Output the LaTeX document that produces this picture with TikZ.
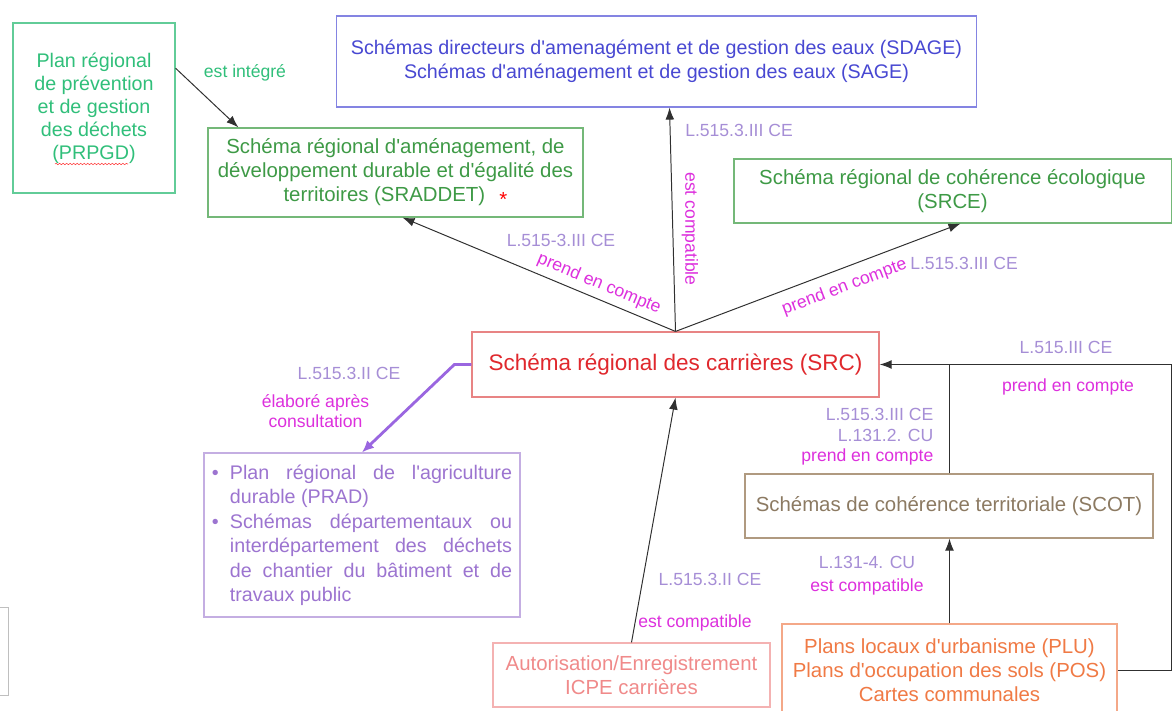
\documentclass[tikz,border=0pt]{standalone}
\usepackage{fontspec}
\setmainfont{Liberation Sans}[Ligatures=TeXOff]
\usepackage{xcolor}
\usetikzlibrary{arrows.meta,positioning,calc,decorations.pathmorphing}

\definecolor{plangreen}{HTML}{30BF7A}
\definecolor{planline}{HTML}{62CC98}
\definecolor{schgreen}{HTML}{3E9A46}
\definecolor{schline}{HTML}{74B878}
\definecolor{eaublue}{HTML}{4848D2}
\definecolor{eauline}{HTML}{8484E2}
\definecolor{srcred}{HTML}{E0282D}
\definecolor{srcline}{HTML}{E88484}
\definecolor{pradviolet}{HTML}{9C74D0}
\definecolor{pradline}{HTML}{C4AEE2}
\definecolor{consultviolet}{HTML}{9A66E0}
\definecolor{icpepink}{HTML}{F08A8A}
\definecolor{icpeline}{HTML}{F4B2B2}
\definecolor{scotbrown}{HTML}{8C7A62}
\definecolor{scotline}{HTML}{B09A80}
\definecolor{pluorange}{HTML}{F07A45}
\definecolor{pluline}{HTML}{F4A888}
\definecolor{lawlavender}{HTML}{A68ED6}
\definecolor{relmagenta}{HTML}{DD30DD}
\definecolor{linkgray}{HTML}{303030}

\newcommand{\diagfont}{\fontsize{14.5}{17}\selectfont}
\newcommand{\notefont}{\fontsize{12.5}{14.5}\selectfont}
\newcommand{\pradpoint}{\par\noindent\hspace*{-0.45cm}\makebox[0.45cm][l]{\textbullet}}

\begin{document}
\begin{tikzpicture}[
    x=0.025cm, y=-0.025cm,
    >={Latex[length=3mm,width=2.2mm]},
    box/.style={rectangle, draw, line width=0.8pt, align=center, font=\diagfont, inner sep=2pt},
    link/.style={->, draw=linkgray, line width=0.7pt},
    consult/.style={-{Latex[length=3mm,width=2.6mm]}, draw=consultviolet, line width=2pt},
    law/.style={font=\notefont, text=lawlavender, inner sep=1pt},
    rel/.style={font=\notefont, text=relmagenta, inner sep=1pt}
]
    \useasboundingbox (0,0) rectangle (1173,711);
    \clip (0,0) rectangle (1173,711);
    \fill[white] (0,0) rectangle (1173,711);

    \node[box, draw=planline, text=plangreen, minimum width=4.05cm, minimum height=4.25cm, font=\fontsize{14}{16.3}\selectfont] (prpgd) at (94,108) {Plan régional\\de prévention\\et de gestion\\des déchets\\(PRPGD)};
    \node[box, draw=eauline, text=eaublue, minimum width=15.975cm, minimum height=2.275cm, font=\fontsize{14}{17}\selectfont] (sdage) at (656.5,61.5) {Schémas directeurs d'amenagément et de gestion des eaux (SDAGE)\\Schémas d'aménagement et de gestion des eaux (SAGE)};
    \node[box, draw=schline, text=schgreen, minimum width=9.375cm, minimum height=2.225cm] (sraddet) at (395.5,172.5) {Schéma régional d'aménagement, de\\développement durable et d'égalité des\\territoires (SRADDET)\hspace{0.7em}\raisebox{-0.5ex}{\textcolor{red}{*}}};
    \node[box, draw=schline, text=schgreen, minimum width=10.925cm, minimum height=1.6cm] (srce) at (952.5,191) {Schéma régional de cohérence écologique\\(SRCE)};
    \node[box, draw=srcline, text=srcred, minimum width=10.175cm, minimum height=1.625cm, font=\fontsize{16}{19}\selectfont] (src) at (675.5,364.5) {Schéma régional des carrières (SRC)};
    \node[box, draw=pradline, text=pradviolet, inner xsep=0.2cm, minimum height=4.1cm, font=\fontsize{14}{17.4}\selectfont] (prad) at (362,535) {\parbox[c][3.5cm][t]{7.5cm}{\leftskip=0.45cm\pradpoint Plan régional de l'agriculture\linebreak durable (PRAD)\pradpoint Schémas départementaux ou\linebreak interdépartement des déchets\linebreak de chantier du bâtiment et de\linebreak travaux public}};
    \node[box, draw=icpeline, text=icpepink, minimum width=6.925cm, minimum height=1.6cm] (icpe) at (631.5,675) {Autorisation/Enregistrement\\ICPE carrières};
    \node[box, draw=scotline, text=scotbrown, minimum width=10.2cm, minimum height=1.6cm] (scot) at (949,506) {Schémas de cohérence territoriale (SCOT)};
    \node[box, draw=pluline, text=pluorange, minimum width=8.375cm, minimum height=2.3cm] (plu) at (949.5,670) {Plans locaux d'urbanisme (PLU)\\Plans d'occupation des sols (POS)\\Cartes communales};
    \coordinate (rbend) at (1171,364.5);

    \draw[link] (prpgd.26) -- ($(sraddet.north west)+(31,0)$);
    \node[rel, text=plangreen] (integre) at (245,73) {est intégré};

    \draw[link] (src.north) -- ($(sdage.south)+(13,0)$);
    \node[law] at (739,130) {L.515.3.III CE};
    \node[rel, rotate=-90] at (690,229) {est compatible};

    \draw[link, <-] ($(sraddet.south)+(7,0)$) -- (src.north) node[rel, pos=0.7, sloped, above=3pt] {prend en compte};
    \node[law] at (561,240) {L.515-3.III CE};

    \draw[link] (src.north) -- ($(srce.south)+(8,0)$) node[rel, pos=0.57, sloped, below=6pt] {prend en compte};
    \node[law] at (964,263) {L.515.3.III CE};

    \draw[consult] (src.west) -- ++(-17,0) -- (prad.north);
    \node[law] at (349,373) {L.515.3.II CE};
    \node[rel, align=center] at (315.5,411) {élaboré après\\consultation};

    \draw[link] (icpe.north) -- (src.south);
    \node[law] at (710,579) {L.515.3.II CE};
    \node[rel] at (695,623) {est compatible};

    \draw[link] (plu.east) -| (rbend) -- (src.east);
    \draw[draw=linkgray, line width=0.7pt] (scot.north) -- (scot.north |- src.east);
    \node[law] at (1066,347) {L.515.III CE};
    \node[rel] at (1068,387) {prend en compte};
    \node[align=right, anchor=east, font=\notefont, inner sep=1pt] at (935,437) {\textcolor{lawlavender}{L.515.3.III CE}\\\textcolor{lawlavender}{L.131.2. CU}\\\textcolor{relmagenta}{prend en compte}};

    \draw[link] (plu.north) -- (scot.south -| plu.north);
    \node[law] at (867,562) {L.131-4. CU};
    \node[rel] at (867,587) {est compatible};

    \draw[red!75, decorate, decoration={snake, amplitude=0.5pt, segment length=2.5pt}] (55,164) -- (128,164);
    \draw[black!25] (-5,607) -- (8,607) -- (8,695) -- (-5,695);
\end{tikzpicture}
\end{document}
